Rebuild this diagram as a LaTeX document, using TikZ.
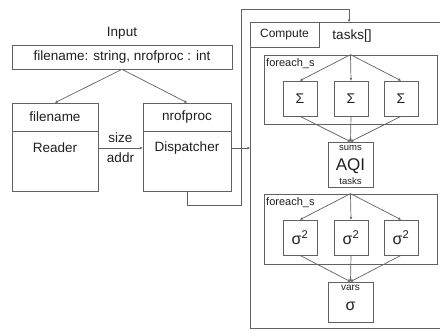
\documentclass[tikz,border=0pt]{standalone}
\usepackage{fontspec}
\setmainfont{Liberation Sans}
\usetikzlibrary{arrows.meta}
\begin{document}
\begin{tikzpicture}[x=1pt,y=-1pt,
  ln/.style={draw=black!62, line width=0.7pt},
  arr/.style={ln, -{Stealth[length=3pt,width=2.6pt]}},
  rect/.style={ln, inner sep=0pt, minimum width=#1},
  txt/.style={inner sep=0pt, text=black!88, font=\fontsize{13.5}{15}\selectfont},
  small/.style={inner sep=0pt, text=black!88, font=\fontsize{9.5}{11}\selectfont}
]
\useasboundingbox (0,0) rectangle (440,331);
% input
\node[txt] (inlbl) at (122,33) {Input};
\node[rect=220, minimum height=24, txt] (top) at (122,57) {filename: string, nrofproc : int};
% reader
\node[rect=86, minimum height=28, txt] (rhead) at (55,117) {filename};
\node[rect=86, minimum height=60] (rbody) at (55,161) {};
\node[txt] (rtext) at (55,148) {Reader};
% dispatcher
\node[rect=88, minimum height=28, txt] (dhead) at (187,117) {nrofproc};
\node[rect=88, minimum height=60] (dbody) at (187,161) {};
\node[txt] (dtext) at (187,148) {Dispatcher};
\draw[arr] (top.south) -- (rhead.north);
\draw[arr] (top.south) -- (dhead.north);
\draw[arr] (rbody.east |- rtext) -- (dbody.west |- rtext);
\node[txt] (size) at (120.5,138) {size};
\node[txt] (addr) at (120.5,158) {addr};
% compute frame
\coordinate (ctr) at (441,22);
\coordinate (ctl) at (250,22);
\coordinate (cbl) at (250,328);
\coordinate (cbr) at (441,328);
\draw[ln] (ctr) -- (ctl) -- (cbl) -- (cbr);
\draw[arr] (dbody.east |- dtext) -- (ctl |- dtext);
\coordinate (b1) at (241,205);
\coordinate (b2) at (241,9);
\coordinate (cin) at (349,22);
\draw[arr] (dbody.south) |- (b1) -- (b2) -| (cin);
\node[rect=69, minimum height=25, txt, font=\fontsize{12}{14}\selectfont] (clbl) at (284.5,34.5) {Compute};
\node[txt] (tasks) at (352,36) {tasks[]};
% foreach 1
\node[rect=173, minimum height=69] (fe1) at (350.5,89.5) {};
\node[small, font=\fontsize{11}{13}\selectfont, anchor=north west] (fe1l) at (266,58) {foreach\_s};
\foreach \i/\x in {1/300,2/351,3/401}{
  \node[rect=34, minimum height=35, txt, font=\fontsize{14}{16}\selectfont] (s\i) at (\x,98.5) {Σ};
  \draw[arr] (fe1.north) -- (s\i.north);
}
\node[rect=45, minimum height=45] (sums) at (350.5,164.5) {};
\node[small] (sumsl) at (350.5,148) {sums};
\node[txt, font=\fontsize{17}{19}\selectfont] (aqi) at (350.5,166) {AQI};
\node[small] (tasksl) at (350.5,181) {tasks};
\foreach \i in {1,2,3}{
  \draw[arr] (s\i.south) -- (sums.north);
}
% foreach 2
\node[rect=173, minimum height=70] (fe2) at (350.5,229) {};
\node[small, font=\fontsize{11}{13}\selectfont, anchor=north west] (fe2l) at (266,197) {foreach\_s};
\foreach \i/\x in {1/300,2/351,3/401}{
  \node[rect=34, minimum height=35, txt, font=\fontsize{16}{18}\selectfont] (q\i) at (\x,237.5) {σ\textsuperscript{2}};
  \draw[arr] (fe2.north) -- (q\i.north);
}
\node[rect=45, minimum height=40] (vars) at (350.5,302) {};
\node[small, font=\fontsize{10}{12}\selectfont] (varsl) at (350.5,288) {vars};
\node[txt, font=\fontsize{16}{18}\selectfont] (sig) at (350.5,306) {σ};
\foreach \i in {1,2,3}{
  \draw[arr] (q\i.south) -- (vars.north);
}
\end{tikzpicture}
\end{document}
